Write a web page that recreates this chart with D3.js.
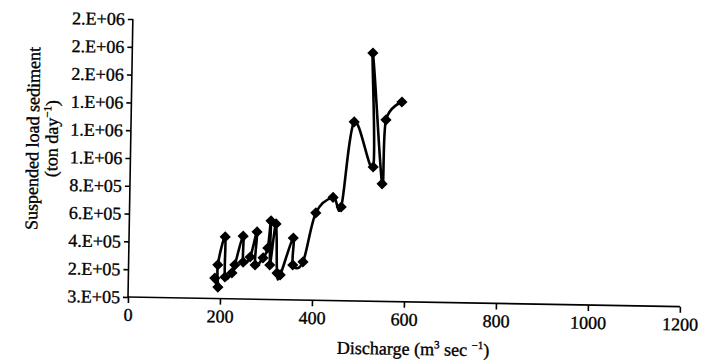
<!DOCTYPE html>
<html>
<head>
<meta charset="utf-8">
<script src="https://cdn.jsdelivr.net/npm/d3@7"></script>
<style>
  body { margin: 0; background: #fff; }
  svg { display: block; }
  text { font-family: "Liberation Serif", "DejaVu Serif", serif; fill: #000; stroke: #000; stroke-width: 0.35px; }
</style>
</head>
<body>
<div id="chart"></div>
<script>
// discharge (m3/s) and suspended sediment load (ton/day), in plotted order
const discharge = [188, 195, 194, 209, 210, 225, 231, 248, 249, 264, 278, 275, 292, 302, 308, 307,
                   319, 323, 330, 357, 357, 379, 405, 442, 460, 485, 528, 523, 548, 554, 588];
const sediment = [147e3, 83e3, 242e3, 444e3, 156e3, 186e3, 244e3, 453e3, 266e3, 303e3, 484e3, 246e3,
                  298e3, 370e3, 565e3, 248e3, 544e3, 191e3, 178e3, 445e3, 251e3, 274e3, 628e3, 742e3,
                  674e3, 1288e3, 966e3, 1786e3, 845e3, 1306e3, 1437e3];

const xTicks = [0, 200, 400, 600, 800, 1000, 1200];
const yTicks = [0, 2e5, 4e5, 6e5, 8e5, 1e6, 1.2e6, 1.4e6, 1.6e6, 1.8e6, 2e6];
// labels exactly as printed on the original figure
const yTickLabels = ['3.E+05', '2.E+05', '4.E+05', '6.E+05', '8.E+05', '1.E+06',
                     '1.E+06', '1.E+06', '2.E+06', '2.E+06', '2.E+06'];

const width = 720, height = 360;
const origin = { x: 128, y: 297 };

const svg = d3.select('#chart').append('svg')
    .attr('width', width)
    .attr('height', height);

// the scanned figure is tilted by about one degree
const g = svg.append('g')
    .attr('transform', `rotate(1, ${origin.x}, ${origin.y})`);

const x = d3.scaleLinear().domain([0, 1200]).range([origin.x, 680]);
const y = d3.scaleLinear().domain([0, 2e6]).range([origin.y, 19]);

// Axes
const xAxis = d3.axisBottom(x).tickValues(xTicks).tickSize(6).tickPadding(5)
    .tickFormat(d3.format('d'));
const yAxis = d3.axisLeft(y).tickValues(yTicks).tickSize(5).tickPadding(3)
    .tickFormat((d, i) => yTickLabels[i]);

g.append('g')
    .attr('transform', `translate(0, ${origin.y})`)
    .call(xAxis)
    .call(a => a.select('.domain').attr('d', `M${x(0)},0H${x(1200)}`));

g.append('g')
    .attr('transform', `translate(${origin.x}, 0)`)
    .call(yAxis)
    .call(a => a.select('.domain').attr('d', `M0,${y(0)}V${y(2e6)}`));

g.selectAll('.tick text')
    .style('font-size', '18px')
    .style('font-family', '"Liberation Serif", serif');
g.selectAll('.domain, .tick line')
    .attr('stroke', '#000')
    .attr('stroke-width', 1.6);

// Smoothed line through the points
const pts = discharge.map((d, i) => [d, sediment[i]]);
const line = d3.line()
    .x(d => x(d[0]))
    .y(d => y(d[1]))
    .curve(d3.curveCatmullRom.alpha(0));

g.append('path')
    .datum(pts)
    .attr('d', line)
    .attr('fill', 'none')
    .attr('stroke', '#000')
    .attr('stroke-width', 2.6);

g.selectAll('path.marker')
    .data(pts)
    .join('path')
    .attr('class', 'marker')
    .attr('transform', d => `translate(${x(d[0])}, ${y(d[1])})`)
    .attr('d', d3.symbol(d3.symbolDiamond2, 80))
    .attr('fill', '#000');

// Axis titles
const xTitle = g.append('text')
    .attr('x', 414)
    .attr('y', 350)
    .attr('text-anchor', 'middle')
    .style('font-size', '18px');
xTitle.append('tspan').text('Discharge (m');
xTitle.append('tspan').attr('dy', -7).style('font-size', '11px').text('3');
xTitle.append('tspan').attr('dy', 7).text(' sec ');
xTitle.append('tspan').attr('dy', -7).style('font-size', '11px').text('\u22121');
xTitle.append('tspan').attr('dy', 7).text(')');

const yTitle = g.append('text')
    .attr('transform', 'translate(36, 140) rotate(-90)')
    .attr('text-anchor', 'middle')
    .style('font-size', '18px');
yTitle.append('tspan').attr('x', 0).attr('y', 0).text('Suspended load sediment');
const yTitle2 = g.append('text')
    .attr('transform', 'translate(55, 140) rotate(-90)')
    .attr('text-anchor', 'middle')
    .style('font-size', '18px');
yTitle2.append('tspan').text('(ton day');
yTitle2.append('tspan').attr('dy', -7).style('font-size', '11px').text('\u22121');
yTitle2.append('tspan').attr('dy', 7).text(')');
</script>
</body>
</html>
